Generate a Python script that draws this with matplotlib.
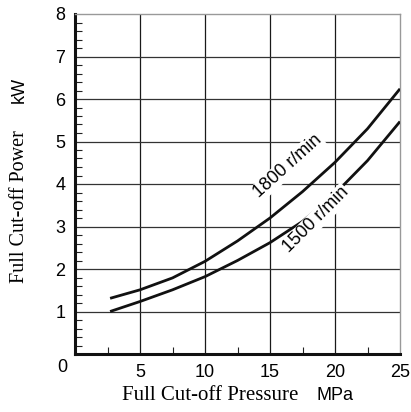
import matplotlib
matplotlib.use("Agg")
import matplotlib.pyplot as plt
from matplotlib.ticker import MultipleLocator

pressure = [2.7, 5, 7.5, 10, 12.5, 15, 17.5, 20, 22.5, 25]
power_1800 = [1.31, 1.51, 1.79, 2.18, 2.66, 3.20, 3.82, 4.51, 5.30, 6.24]
power_1500 = [1.00, 1.235, 1.51, 1.82, 2.20, 2.62, 3.12, 3.77, 4.55, 5.47]
xticks = [5, 10, 15, 20, 25]
yticks = [1, 2, 3, 4, 5, 6, 7, 8]

SANS = "Liberation Sans"
SERIF = "Liberation Serif"

fig = plt.figure(figsize=(4.11, 4.12), dpi=100)
ax = fig.add_axes([75/411, 58/412, 325/411, 340/412])

ax.set_xlim(0, 25)
ax.set_ylim(0, 8)

# grid
for xv in xticks[:-1]:
    ax.axvline(xv, color="#1a1a1a", lw=0.9, zorder=1)
for yv in yticks[:-1]:
    ax.axhline(yv, color="#333333", lw=0.9, zorder=1)

ax.plot(pressure, power_1800, color="#111111", lw=2.0, zorder=3,
        solid_capstyle="butt", solid_joinstyle="round")
ax.plot(pressure, power_1500, color="#111111", lw=2.0, zorder=3,
        solid_capstyle="butt", solid_joinstyle="round")

ax.text(16.4, 4.42, "1800 r/min", rotation=42, ha="center", va="center",
        fontfamily=SANS, fontsize=13, zorder=4,
        bbox=dict(facecolor="white", edgecolor="none", pad=0.8))
ax.text(18.55, 3.15, "1500 r/min", rotation=45, ha="center", va="center",
        fontfamily=SANS, fontsize=13, zorder=4,
        bbox=dict(facecolor="white", edgecolor="none", pad=0.8))

# spines
for s in ["top", "right"]:
    ax.spines[s].set_color("#999999")
    ax.spines[s].set_linewidth(1.0)
for s in ["left", "bottom"]:
    ax.spines[s].set_color("#111111")
    ax.spines[s].set_linewidth(2.2)

ax.set_xticks(xticks)
ax.set_yticks(yticks)
ax.xaxis.set_minor_locator(MultipleLocator(2.5))
ax.yaxis.set_minor_locator(MultipleLocator(0.2))
ax.tick_params(axis="both", which="major", length=0, pad=7, labelsize=13)
ax.tick_params(axis="x", which="major", pad=7)
ax.tick_params(axis="y", which="minor", direction="in", length=5, width=0.8, color="#222222")
ax.tick_params(axis="x", which="minor", direction="in", length=5, width=0.8, color="#222222")
for lab in ax.get_xticklabels() + ax.get_yticklabels():
    lab.set_fontfamily(SANS)

# origin "0"
fig.text(62/411, 1 - 368/412, "0", ha="center", va="center", fontfamily=SANS, fontsize=13)

# x label (mixed fonts)
fig.text(122/411, 1 - 396/412, "Full Cut-off Pressure", ha="left", va="center",
         fontfamily=SERIF, fontsize=15)
fig.text(317/411, 1 - 396/412, "MPa", ha="left", va="center",
         fontfamily=SANS, fontsize=13)

# y label (mixed fonts)
fig.text(19/411, 1 - 283/412, "Full Cut-off Power", ha="center", va="bottom",
         rotation=90, fontfamily=SERIF, fontsize=14.5)
fig.text(19/411, 1 - 103/412, "kW", ha="center", va="bottom",
         rotation=90, fontfamily=SANS, fontsize=13)

fig.savefig("out.png", dpi=100)
